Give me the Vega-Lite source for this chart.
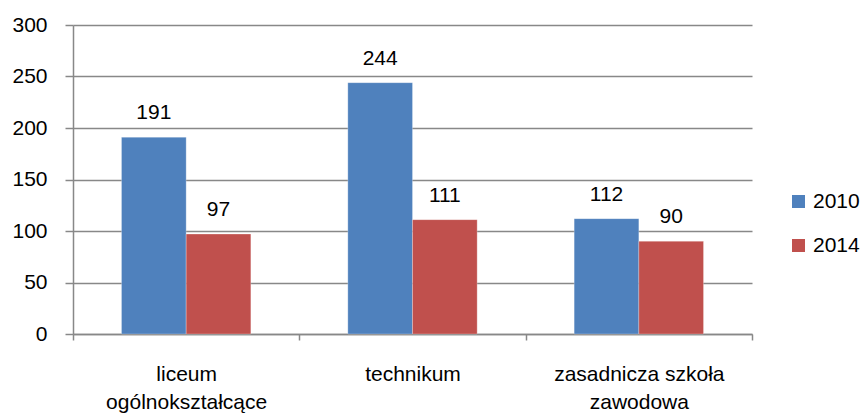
{
  "$schema": "https://vega.github.io/schema/vega-lite/v6.json",
  "width": 679,
  "height": 309,
  "autosize": {"type": "none"},
  "padding": {"left": 73, "top": 25, "right": 111, "bottom": 83},
  "background": "white",
  "config": {
    "view": {"stroke": null},
    "font": "Liberation Sans, Arial"
  },
  "data": {
    "values": [
      {"szkola": "liceum ogólnokształcące", "rok": "2010", "wartosc": 191},
      {"szkola": "liceum ogólnokształcące", "rok": "2014", "wartosc": 97},
      {"szkola": "technikum", "rok": "2010", "wartosc": 244},
      {"szkola": "technikum", "rok": "2014", "wartosc": 111},
      {"szkola": "zasadnicza szkoła zawodowa", "rok": "2010", "wartosc": 112},
      {"szkola": "zasadnicza szkoła zawodowa", "rok": "2014", "wartosc": 90}
    ]
  },
  "encoding": {
    "x": {
      "field": "szkola",
      "type": "nominal",
      "sort": null,
      "title": null,
      "scale": {"paddingInner": 0, "paddingOuter": 0},
      "axis": {
        "tickBand": "extent",
        "labelAngle": 0,
        "labelFontSize": 21,
        "labelLimit": 0,
        "labelColor": "black",
        "labelPadding": 23,
        "labelLineHeight": 28,
        "labelBaseline": "top",
        "labelExpr": "datum.value == 'liceum ogólnokształcące' ? ['liceum', 'ogólnokształcące'] : datum.value == 'zasadnicza szkoła zawodowa' ? ['zasadnicza szkoła', 'zawodowa'] : datum.value",
        "domainColor": "#888888",
        "domainWidth": 1.5,
        "tickColor": "#888888",
        "tickWidth": 1.5,
        "tickSize": 6,
        "grid": false
      }
    },
    "xOffset": {
      "field": "rok",
      "type": "nominal",
      "scale": {"paddingInner": 0, "paddingOuter": 0.75}
    },
    "y": {
      "field": "wartosc",
      "type": "quantitative",
      "title": null,
      "scale": {"domain": [0, 300]},
      "axis": {
        "values": [0, 50, 100, 150, 200, 250, 300],
        "labelFontSize": 21,
        "labelColor": "black",
        "labelPadding": 18,
        "grid": true,
        "gridColor": "#888888",
        "gridWidth": 1.5,
        "domainColor": "#888888",
        "domainWidth": 1.5,
        "tickColor": "#888888",
        "tickWidth": 1.5,
        "tickSize": 8
      }
    }
  },
  "layer": [
    {
      "mark": {"type": "bar", "stroke": "#ffffff", "strokeWidth": 0.5, "strokeOpacity": 0.5},
      "encoding": {
        "color": {
          "field": "rok",
          "type": "nominal",
          "scale": {"domain": ["2010", "2014"], "range": ["#4F81BD", "#C0504D"]},
          "legend": {
            "title": null,
            "orient": "none",
            "legendX": 715,
            "legendY": 166,
            "symbolType": "square",
            "symbolSize": 169,
            "symbolStrokeWidth": 0,
            "labelFontSize": 21,
            "labelLimit": 0,
            "labelColor": "black",
            "labelOffset": 4,
            "rowPadding": 22
          }
        }
      }
    },
    {
      "mark": {"type": "text", "baseline": "alphabetic", "dy": -18, "fontSize": 21, "color": "black"},
      "encoding": {
        "text": {"field": "wartosc", "type": "quantitative"}
      }
    }
  ]
}
